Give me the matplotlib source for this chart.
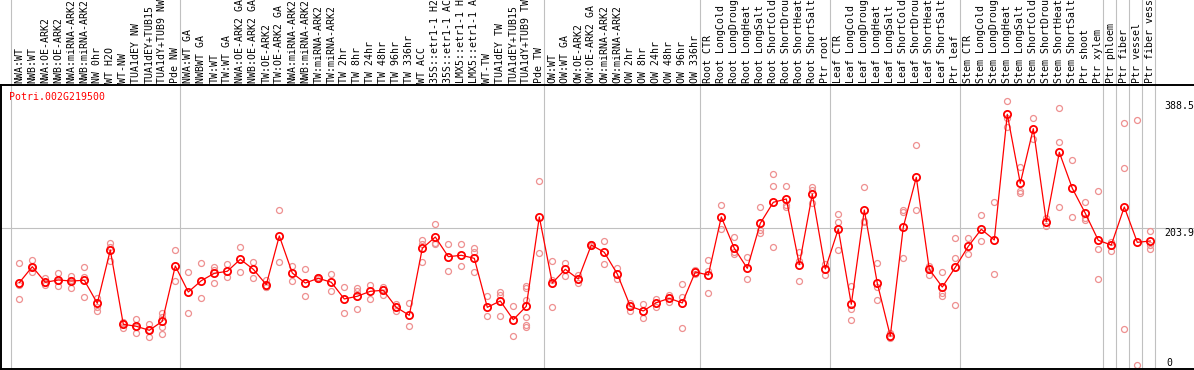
import matplotlib as mpl
mpl.use("Agg")
import matplotlib.pyplot as plt
import numpy as np

GENE = "Potri.002G219500"

SAMPLES = [
    "NWA:WT", "NWB:WT", "NWA:OE-ARK2", "NWB:OE-ARK2", "NWA:miRNA-ARK2", "NWB:miRNA-ARK2",
    "NW 0hr", "WT H2O", "WT-NW", "TUA1dEY NW", "TUA1dEY+TUB15", "TUA1dY+TUB9 NW", "Pde NW",
    "NWA:WT GA", "NWBWT GA", "TW:WT", "TW:WT GA", "NWA:OE-ARK2 GA", "NWB:OE-ARK2 GA",
    "TW:OE-ARK2", "TW:OE-ARK2 GA", "NWA:miRNA-ARK2", "NWB:miRNA-ARK2", "TW:miRNA-ARK2",
    "TW:miRNA-ARK2", "TW 2hr", "TW 8hr", "TW 24hr", "TW 48hr", "TW 96hr", "TW 336hr",
    "WT ACC", "35S::etr1-1 H2O", "35S::etr1-1 ACC", "LMX5::etr1-1 H2O", "LMX5::etr1-1 ACC",
    "WT-TW", "TUA1dEY TW", "TUA1dEY+TUB15", "TUA1dY+TUB9 TW", "Pde TW",
    "OW:WT", "OW:WT GA", "OW:OE-ARK2", "OW:OE-ARK2 GA", "OW:miRNA-ARK2", "OW:miRNA-ARK2",
    "OW 2hr", "OW 8hr", "OW 24hr", "OW 48hr", "OW 96hr", "OW 336hr",
    "Root CTR", "Root LongCold", "Root LongDrought", "Root LongHeat", "Root LongSalt",
    "Root ShortCold", "Root ShortDrought", "Root ShortHeat", "Root ShortSalt", "Ptr root",
    "Leaf CTR", "Leaf LongCold", "Leaf LongDrought", "Leaf LongHeat", "Leaf LongSalt",
    "Leaf ShortCold", "Leaf ShortDrought", "Leaf ShortHeat", "Leaf ShortSalt", "Ptr leaf",
    "Stem CTR", "Stem LongCold", "Stem LongDrought", "Stem LongHeat", "Stem LongSalt",
    "Stem ShortCold", "Stem ShortDrought", "Stem ShortHeat", "Stem ShortSalt", "Ptr shoot",
    "Ptr xylem", "Ptr phloem", "Ptr fiber", "Ptr vessel", "Ptr fiber vessel",
]

# first sample index of each block (separators drawn before these)
GROUP_STARTS = [0, 13, 41, 53, 63, 73, 84, 85, 86, 87, 88]

MEANS = [
    125.1, 148.3, 125.7, 129.0, 127.5, 128.6, 95.2, 172.5, 64.8, 61.9, 56.1, 69.1, 149.3,
    111.6, 128.0, 138.7, 141.6, 159.0, 144.5, 122.2, 192.8, 139.1, 124.6, 131.5, 125.7,
    101.5, 105.4, 112.6, 114.1, 89.4, 77.8, 174.9, 191.3, 162.8, 164.8, 160.4, 89.4, 98.6,
    71.5, 90.9, 220.3,
    124.6, 144.5, 130.4, 179.7, 169.1, 137.7, 90.9, 84.1, 96.1, 102.5, 95.7, 140.6,
    136.2, 220.3, 174.9, 145.9, 211.2, 241.6, 246.4, 151.2, 253.6, 144.9,
    202.9, 93.8, 230.4, 124.2, 47.8, 205.8, 277.8, 144.5, 118.8, 147.4,
    177.8, 202.5, 187.0, 369.1, 269.1, 348.3, 213.5, 314.1, 261.9, 225.7, 186.5,
    179.7, 234.8, 183.6, 185.5,
]

REPLICATES = [
    [153.2, 121.7, 101.0], [158.0, 148.0, 141.0], [131.5, 121.7, 124.0], [138.7, 120.7, 128.0],
    [134.8, 117.8, 129.0], [147.4, 133.8, 103.9], [102.5, 90.3, 84.5], [183.0, 177.2, 157.0],
    [68.6, 59.0, 66.0], [72.5, 51.7, 61.0], [64.8, 45.9, 57.0], [81.6, 75.8, 61.3, 50.3],
    [172.0, 127.1],
    [141.0, 80.7], [153.2, 102.5], [148.3, 124.2, 143.6], [151.7, 132.9], [176.4, 141.0],
    [155.5, 131.5], [129.0, 119.3, 118.5], [230.4, 154.6], [149.3, 127.1], [144.5, 105.8],
    [133.0, 130.0], [137.2, 112.6], [118.4, 80.7], [117.0, 112.6, 86.5], [122.2, 101.0],
    [119.3, 115.5, 107.5], [94.2, 84.5], [95.2, 61.9], [187.0, 181.2, 154.6],
    [209.7, 181.2, 183.0], [181.2, 141.6], [181.2, 148.8], [175.4, 169.1, 140.6],
    [105.4, 76.4], [111.6, 106.8, 76.8], [90.9, 47.4],
    [120.3, 118.0, 100.0, 75.8, 63.8, 61.3], [272.0, 167.7],
    [156.1, 129.0, 89.4], [153.6, 134.8], [136.2, 125.1], [181.0, 178.0], [185.5, 152.2],
    [145.9, 130.0], [96.1, 84.5], [93.8, 74.3], [101.5, 89.9], [107.2, 97.5],
    [122.7, 104.8, 59.4], [143.0, 138.2],
    [157.5, 142.0, 110.1], [237.2, 202.5], [191.3, 169.1, 166.7], [161.9, 130.0],
    [234.8, 201.5, 197.5], [282.6, 264.8, 176.4], [264.8, 237.7, 234.4],
    [169.6, 156.5, 127.5], [264.2, 259.4, 241.0], [152.2, 135.8],
    [224.2, 212.6, 172.5], [120.7, 87.0, 71.0], [263.3, 214.9, 213.0],
    [153.2, 119.3, 100.0], [44.5, 52.2], [230.0, 228.0, 160.4], [324.2, 230.4],
    [149.3, 146.4, 135.8], [140.1, 109.7, 106.2], [190.3, 160.4, 92.3],
    [189.4, 166.2], [222.8, 185.1], [241.6, 137.2], [388.5, 363.3, 351.2],
    [292.3, 258.0, 254.6], [363.3, 332.9], [218.4, 207.2], [377.8, 328.6, 234.4],
    [302.9, 220.3], [242.5, 218.6, 216.0], [258.0, 173.5, 130.0],
    [184.5, 171.5], [356.5, 290.9, 58.0], [360.4, 5.4], [200.0, 179.7, 173.9],
]

Y_MAX = 388.5
Y_MID = 203.9

MONO = "DejaVu Sans Mono"
RED = "#ff0000"
PINK = "#ee9090"
GREY = "#c0c0c0"

W, H = 1194, 370
fig = plt.figure(figsize=(W / 100, H / 100), dpi=100)
top_px, bot_px, left_px = 85, 369, 1
ax = fig.add_axes([left_px / W, (H - bot_px) / H, (W - left_px) / W, (bot_px - top_px) / H])

x = np.arange(len(SAMPLES))
step = 13.0
x0_px = 19.3
ax.set_xlim((left_px - x0_px) / step, (W - x0_px) / step)
ax.set_ylim(0, (bot_px - top_px) * 1.4493)

# separators, extending up through the label band
ext = bot_px / (bot_px - top_px)
for g in GROUP_STARTS:
    ax.axvline(g - 0.63, ymin=0, ymax=ext, color=GREY, lw=0.8, clip_on=False, zorder=1)
ax.axhline(Y_MID, color=GREY, lw=0.8, zorder=1)

for i, reps in enumerate(REPLICATES):
    ax.plot([i] * len(reps), reps, "o", ms=4.3, mfc="none", mec=PINK, mew=0.9, zorder=2)
ax.plot(x, MEANS, "-", color=RED, lw=0.9, zorder=3)
ax.plot(x, MEANS, "o", ms=5.2, mfc="none", mec=RED, mew=1.3, zorder=4)

ax.xaxis.tick_top()
ax.set_xticks(x)
ax.set_xticklabels(SAMPLES, rotation=90, fontsize=7.1, family=MONO, ha="center", va="bottom")
ax.tick_params(axis="x", length=0, pad=1.5)
ax.set_yticks([])

for s in ["left", "top", "bottom"]:
    ax.spines[s].set_linewidth(1.4)
    ax.spines[s].set_color("black")
ax.spines["right"].set_visible(False)

ax.text((9.3 - left_px) / (W - left_px), 1 - (96.7 - top_px) / (bot_px - top_px), GENE,
        transform=ax.transAxes, color=RED, family=MONO, fontsize=7.1, ha="left", va="center")

lab_x = (1164 - x0_px) / step
ax.text(lab_x, Y_MAX, f"{Y_MAX}", family=MONO, fontsize=7.1, ha="left", va="top")
ax.text(lab_x, Y_MID, f"{Y_MID}", family=MONO, fontsize=7.1, ha="left", va="top")
ax.text(lab_x + 0.15, 5, "0", family=MONO, fontsize=7.1, ha="left", va="baseline")

fig.savefig("out.png", dpi=100, facecolor="white")
